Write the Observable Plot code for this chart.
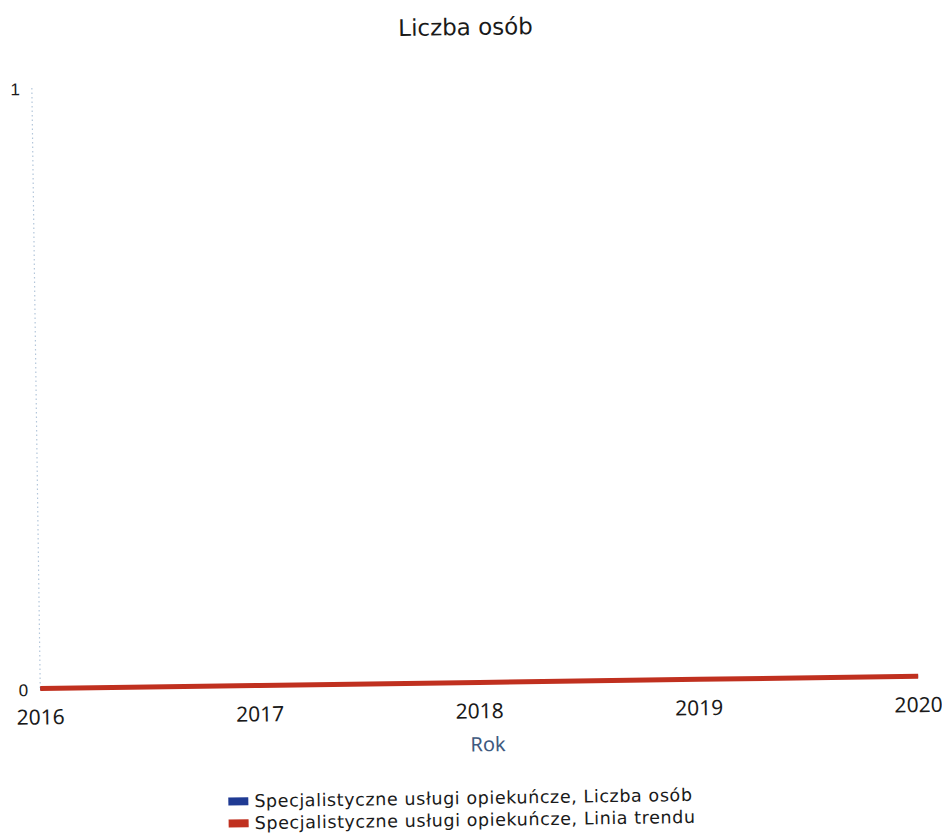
<!DOCTYPE html>
<html>
<head>
<meta charset="utf-8">
<script src="https://cdn.jsdelivr.net/npm/d3@7"></script>
<script src="https://cdn.jsdelivr.net/npm/@observablehq/plot@0.6"></script>
<style>
  html, body { margin: 0; padding: 0; background: #fff; }
  #page { position: relative; width: 942px; height: 836px; overflow: hidden;
          transform: rotate(-0.8deg); transform-origin: 471px 418px; }
  #title { position: absolute; left: 0; width: 942px; top: 13px; text-align: center;
           font-family: "DejaVu Sans", sans-serif; font-size: 23px; line-height: 28px; color: #1a1a1a; }
  #chart { position: absolute; left: 0; top: 60px; }
  #legend { position: absolute; left: 223px; top: 787px; font-family: "DejaVu Sans", sans-serif;
            font-size: 17.5px; letter-spacing: 0.6px; line-height: 20px; color: #1a1a1a; }
  .row { display: flex; align-items: center; white-space: nowrap; height: 22px; }
  .sw { width: 20px; height: 8px; margin-right: 6px; flex: none; }
</style>
</head>
<body>
<div id="page">
  <div id="title"></div>
  <div id="chart"></div>
  <div id="legend"></div>
</div>
<script>
const chartTitle = "Liczba osób";
const years = [2016, 2017, 2018, 2019, 2020];
const liczbaOsob = [0, 0, 0, 0, 0];
const liniaTrendu = [0, 0, 0, 0, 0];
const yTicks = [0, 1];
const xLabel = "Rok";
const seriesNames = ["Specjalistyczne usługi opiekuńcze, Liczba osób", "Specjalistyczne usługi opiekuńcze, Linia trendu"];
const seriesColors = ["#1f3a93", "#c0301f"];

document.getElementById("title").textContent = chartTitle;

const countRows = years.map((yr, i) => ({year: yr, value: liczbaOsob[i]}));
const trendRows = years.map((yr, i) => ({year: yr, value: liniaTrendu[i]}));

const chart = Plot.plot({
  width: 942,
  height: 710,
  marginTop: 21,
  marginBottom: 88,
  marginLeft: 36,
  marginRight: 28,
  style: {fontFamily: "Noto Sans, sans-serif", color: "#1a1a1a", background: "transparent", overflow: "visible"},
  x: {domain: [years[0], years[years.length - 1]], axis: null},
  y: {domain: [yTicks[0], yTicks[yTicks.length - 1]], axis: null},
  marks: [
    Plot.ruleX([years[0]], {y1: yTicks[0], y2: yTicks[1], stroke: "#b3c6da", strokeDasharray: "1.5,3", strokeWidth: 1.2}),
    Plot.lineY(countRows, {x: "year", y: "value", stroke: seriesColors[0], strokeWidth: 3, strokeLinecap: "butt"}),
    Plot.lineY(trendRows, {x: "year", y: "value", stroke: seriesColors[1], strokeWidth: 5, strokeLinecap: "butt"}),
    Plot.axisX({ticks: years, tickFormat: d => String(d), tickSize: 0, tickPadding: 21, label: null, fontSize: 21}),
    Plot.text(yTicks, {x: () => years[0], y: d => d, text: d => String(d), dx: -12, dy: 2, textAnchor: "end",
      fontSize: 17, fontFamily: "Liberation Sans, Arial, sans-serif", fill: "#1a1a1a"}),
    Plot.text([xLabel], {text: d => d, frameAnchor: "bottom", dy: 69, dx: 8, fill: "#3e5a80", fontSize: 20})
  ]
});
document.getElementById("chart").appendChild(chart);

const legend = document.getElementById("legend");
seriesNames.forEach((name, i) => {
  const row = document.createElement("div");
  row.className = "row";
  const sw = document.createElement("span");
  sw.className = "sw";
  sw.style.background = seriesColors[i];
  const t = document.createElement("span");
  t.textContent = name;
  row.appendChild(sw);
  row.appendChild(t);
  legend.appendChild(row);
});
</script>
</body>
</html>
